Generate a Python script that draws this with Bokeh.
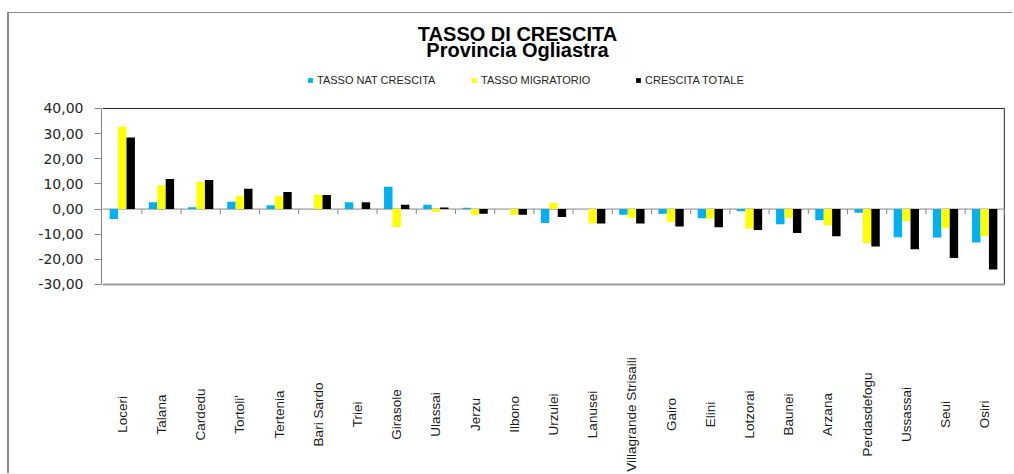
import math
from bokeh.plotting import figure
from bokeh.models import (ColumnDataSource, FactorRange, Range1d, FixedTicker,
                          Legend, LegendItem, LabelSet, Label)
from bokeh.transform import dodge
from bokeh.core.properties import value
from bokeh.embed import file_html
from bokeh.resources import INLINE

# ---------------- data ----------------
comuni = ["Loceri", "Talana", "Cardedu", "Tortoli'", "Tertenia", "Bari Sardo",
          "Triei", "Girasole", "Ulassai", "Jerzu", "Ilbono", "Urzulei",
          "Lanusei", "Villagrande Strisaili", "Gairo", "Elini", "Lotzorai",
          "Baunei", "Arzana", "Perdasdefogu", "Ussassai", "Seui", "Osiri"]
tasso_nat = [-4.0, 2.7, 0.7, 2.9, 1.5, 0.0, 2.7, 8.9, 1.7, 0.5, 0.0, -5.5,
             0.0, -2.3, -1.9, -3.7, -0.9, -6.0, -4.4, -1.5, -11.2, -11.3, -13.3]
tasso_mig = [32.7, 9.5, 10.9, 5.3, 5.3, 5.7, 0.0, -7.1, -1.2, -2.3, -2.3, 2.4,
             -5.7, -3.5, -5.1, -3.9, -7.7, -3.5, -6.5, -13.5, -4.7, -7.6, -10.8]
crescita_tot = [28.5, 12.0, 11.6, 8.1, 6.8, 5.6, 2.7, 1.7, 0.6, -1.9, -2.3, -3.2,
                -5.7, -5.7, -6.9, -7.2, -8.3, -9.5, -10.8, -14.9, -16.0, -19.5, -24.0]
series_labels = ["TASSO NAT CRESCITA", "TASSO MIGRATORIO", "CRESCITA TOTALE"]
y_ticks = [-30, -20, -10, 0, 10, 20, 30, 40]
y_tick_labels = ["-30,00", "-20,00", "-10,00", "0,00", "10,00", "20,00", "30,00", "40,00"]
title_1 = "TASSO DI CRESCITA"
title_2 = "Provincia Ogliastra"

# ---------------- style / layout ----------------
COLORS = ["#00B0F0", "#FFFF00", "#000000"]
BAR_W = 0.215
AXIS_GRAY = "#868686"
DARK = "#262626"
Y_MIN, Y_MAX = y_ticks[0], y_ticks[-1]
# frame covers the whole canvas height so that titles, legend and labels live inside it
Y_VIEW = (-105.57, 77.78)
LABEL_Y = -81.7
N = len(comuni)

src = ColumnDataSource(dict(comune=comuni, nat=tasso_nat, mig=tasso_mig, tot=crescita_tot))

p = figure(x_range=FactorRange(factors=comuni, range_padding=0.03,
                               range_padding_units="absolute", factor_padding=0),
           y_range=Range1d(*Y_VIEW),
           width=1005, height=461,
           min_border_left=92, min_border_right=9, min_border_top=0, min_border_bottom=0,
           output_backend="svg", toolbar_location=None)
p.styles = {"border-left": "2px solid #8c8c8c", "border-top": "1px solid #8c8c8c",
            "margin-top": "12px", "margin-left": "7px"}

p.background_fill_color = "white"
p.border_fill_color = "white"
p.outline_line_color = None
p.grid.visible = False
p.xaxis.visible = False

# plot-area box: top and right dark, bottom gray
p.segment(x0=[0, N], y0=[Y_MAX, Y_MIN], x1=[N, N], y1=[Y_MAX, Y_MAX],
          line_color=DARK, line_width=1)
p.segment(x0=[0], y0=[Y_MIN], x1=[N], y1=[Y_MIN], line_color="#9a9a9a", line_width=2)

# zero axis line and category boundary ticks
p.segment(x0=[0], y0=[0], x1=[N], y1=[0], line_color=AXIS_GRAY, line_width=1)
bounds = list(range(1, N + 1))
p.segment(x0=bounds, y0=[0] * N, x1=bounds, y1=[-2] * N,
          line_color=AXIS_GRAY, line_width=1)

renderers = []
for off, col, color in zip([-BAR_W, 0, BAR_W], ["nat", "mig", "tot"], COLORS):
    r = p.vbar(x=dodge("comune", off, range=p.x_range), top=col, bottom=0,
               width=BAR_W, fill_color=color, line_color=None, source=src)
    renderers.append(r)

# y axis
p.yaxis.ticker = FixedTicker(ticks=y_ticks)
p.yaxis.bounds = (Y_MIN, Y_MAX)
p.yaxis.major_label_overrides = dict(zip(y_ticks, y_tick_labels))
p.yaxis.axis_line_color = AXIS_GRAY
p.yaxis.major_tick_line_color = AXIS_GRAY
p.yaxis.major_tick_out = 7
p.yaxis.major_tick_in = 0
p.yaxis.minor_tick_out = 0
p.yaxis.minor_tick_in = 0
p.yaxis.major_label_text_font = "DejaVu Sans"
p.yaxis.major_label_text_font_size = "14px"
p.yaxis.major_label_text_color = DARK
p.yaxis.major_label_standoff = 11

# category labels (vertical, centred)
labels = LabelSet(x="comune", y=LABEL_Y, text="comune", source=src, angle=math.pi / 2,
                  text_align="center", text_baseline="middle",
                  text_font=value("Liberation Sans"), text_font_size="13.5px",
                  text_color="#1a1a1a")
p.add_layout(labels)

# legend
legend = Legend(items=[LegendItem(label=l, renderers=[r]) for l, r in zip(series_labels, renderers)],
                orientation="horizontal", location=(206, 388),
                glyph_width=6, glyph_height=6, label_standoff=4, label_width=150,
                spacing=4, padding=2, margin=0,
                label_text_font="Liberation Sans", label_text_font_size="11px",
                label_text_color=DARK,
                border_line_color=None, background_fill_alpha=0)
p.add_layout(legend)

# titles
for txt, sy in [(title_1, 440.5), (title_2, 424.5)]:
    p.add_layout(Label(x=416, y=sy, x_units="screen", y_units="screen", text=txt,
                       text_align="center", text_baseline="middle",
                       text_font="Liberation Sans", text_font_size="20px",
                       text_font_style="bold", text_color="black"))

open("out.html", "w").write(file_html(p, INLINE))
